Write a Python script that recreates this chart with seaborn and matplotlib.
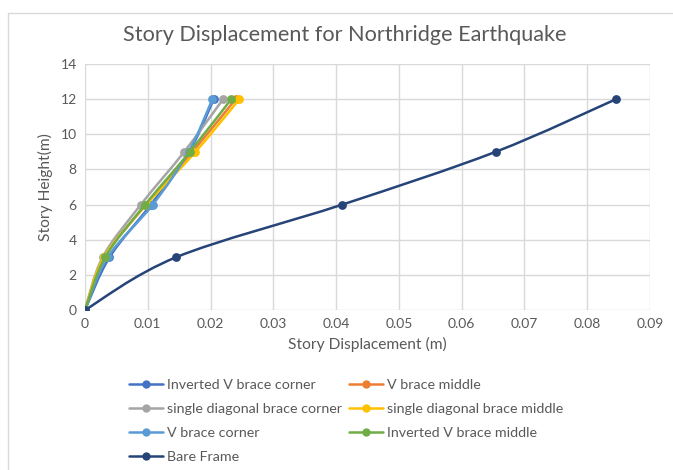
import numpy as np
import pandas as pd
import matplotlib
matplotlib.use("Agg")
import matplotlib.pyplot as plt
from matplotlib.path import Path
from matplotlib.patches import PathPatch, Rectangle
from matplotlib.lines import Line2D
import seaborn as sns

# Story heights (m) and displacement (m) for each model
heights = [0, 3, 6, 9, 12]
inv_v_corner = [0, 0.0039, 0.0105, 0.0166, 0.0205]
v_middle = [0, 0.0031, 0.0097, 0.0171, 0.0240]
sd_corner = [0, 0.0028, 0.0089, 0.0158, 0.0220]
sd_middle = [0, 0.0030, 0.0098, 0.0176, 0.0246]
v_corner = [0, 0.0036, 0.0108, 0.0165, 0.0203]
inv_v_middle = [0, 0.0032, 0.0096, 0.0167, 0.0233]
bare_frame = [0, 0.0145, 0.0410, 0.0654, 0.0846]

series_names = [
    "Inverted V brace corner",
    "V brace middle",
    "single diagonal brace corner",
    "single diagonal brace middle",
    "V brace corner",
    "Inverted V brace middle",
    "Bare Frame",
]
series_values = [inv_v_corner, v_middle, sd_corner, sd_middle,
                 v_corner, inv_v_middle, bare_frame]
colors = ["#4472C4", "#ED7D31", "#A5A5A5", "#FFC000",
          "#5B9BD5", "#70AD47", "#264478"]

x_ticks = [0, 0.01, 0.02, 0.03, 0.04, 0.05, 0.06, 0.07, 0.08, 0.09]
x_tick_labels = ["0", "0.01", "0.02", "0.03", "0.04", "0.05",
                 "0.06", "0.07", "0.08", "0.09"]
y_ticks = [0, 2, 4, 6, 8, 10, 12, 14]

df = pd.concat(
    [pd.DataFrame({"series": n, "disp": v, "height": heights})
     for n, v in zip(series_names, series_values)],
    ignore_index=True,
)

sns.set_theme(style="whitegrid")
plt.rcParams["font.family"] = ["Lato", "DejaVu Sans"]

W, H = 673, 470
fig = plt.figure(figsize=(W / 100, H / 100), dpi=100)
fig.patch.set_facecolor("white")

# chart-area border (top and left edges visible)
fig.add_artist(Rectangle((8 / W, -0.1), 1.2, 1.1 - 13 / H,
                         transform=fig.transFigure, fill=False,
                         edgecolor="#D9D9D9", linewidth=1.0))

ax = fig.add_axes([85 / W, 1 - 310 / H, (650 - 85) / W, (310 - 64) / H])
ax.set_facecolor("white")


def smooth_path(xs, ys):
    """Bezier path through the points (Catmull-Rom style smoothing)."""
    pts = np.column_stack([xs, ys]).astype(float)
    n = len(pts)
    verts = [pts[0]]
    codes = [Path.MOVETO]
    for i in range(n - 1):
        p0 = pts[i - 1] if i > 0 else pts[i]
        p1 = pts[i]
        p2 = pts[i + 1]
        p3 = pts[i + 2] if i + 2 < n else pts[i + 1]
        c1 = p1 + (p2 - p0) / 6.0
        c2 = p2 - (p3 - p1) / 6.0
        verts += [c1, c2, p2]
        codes += [Path.CURVE4] * 3
    return Path(verts, codes)


for k, (name, col) in enumerate(zip(series_names, colors)):
    sub = df[df["series"] == name]
    patch = PathPatch(smooth_path(sub["disp"], sub["height"]),
                      facecolor="none", edgecolor=col, linewidth=1.8,
                      capstyle="round", joinstyle="round", zorder=3 + 2 * k)
    ax.add_patch(patch)
    sns.scatterplot(data=sub, x="disp", y="height", color=col, s=40,
                    edgecolor=col, linewidth=0, ax=ax, zorder=4 + 2 * k,
                    legend=False)

ax.set_xlim(0, 0.09)
ax.set_ylim(0, 14)
ax.set_xticks(x_ticks)
ax.set_xticklabels(x_tick_labels)
ax.set_yticks(y_ticks)
ax.grid(True, color="#D9D9D9", linewidth=1.0)
for s in ax.spines.values():
    s.set_visible(False)
ax.tick_params(axis="both", length=0, labelsize=10, colors="#595959", pad=6)

ax.set_xlabel("Story Displacement (m)", fontsize=11.2, color="#595959", labelpad=5)
ax.set_ylabel("Story Height(m)", fontsize=11.2, color="#595959", labelpad=5)

fig.text(345 / W, 1 - 35 / H, "Story Displacement for Northridge Earthquake",
         ha="center", va="center", fontsize=15.6, color="#595959")

# legend: two columns, filled column by column
order = [0, 2, 4, 6, 1, 3, 5]
handles = [Line2D([], [], color=colors[i], linewidth=1.8, marker="o",
                  markersize=6, markeredgewidth=0) for i in order]
labels = [series_names[i] for i in order]
fig.legend(handles, labels, loc="upper center", ncol=2,
           bbox_to_anchor=(346 / W, 1 - 368.5 / H), frameon=False,
           fontsize=10.3, labelcolor="#595959", handlelength=2.4,
           handletextpad=0.3, columnspacing=0.45, labelspacing=0.86,
           borderpad=0.2)

fig.savefig("out.png", dpi=100, facecolor="white")
